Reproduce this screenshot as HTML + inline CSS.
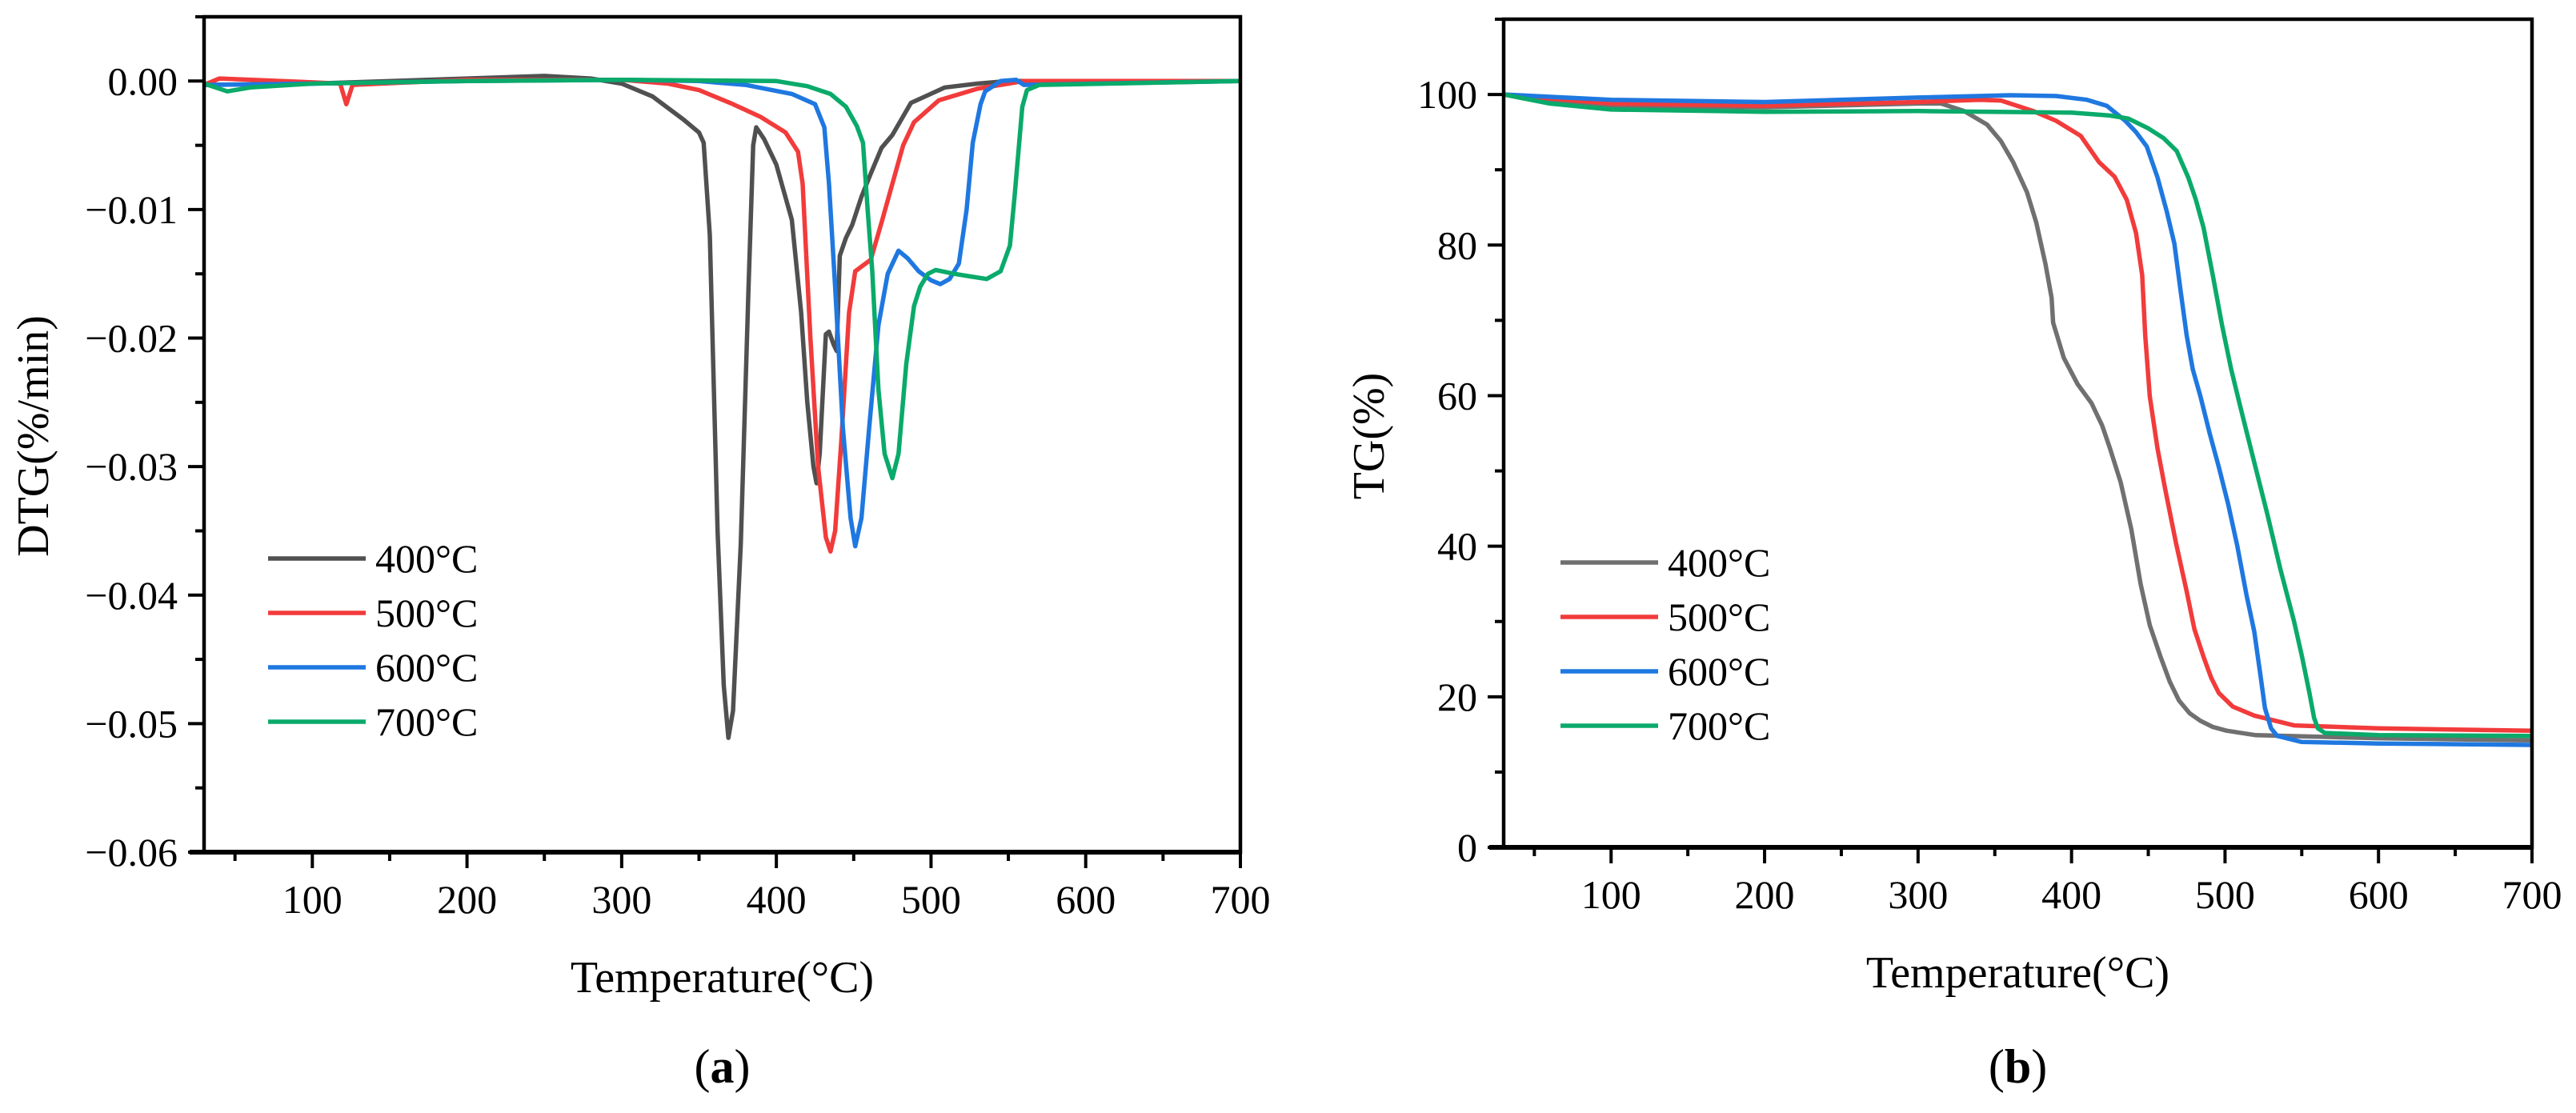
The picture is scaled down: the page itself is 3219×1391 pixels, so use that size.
<!DOCTYPE html>
<html><head><meta charset="utf-8"><style>
html,body{margin:0;padding:0;background:#fff;}
svg{display:block;font-family:"Liberation Serif",serif;}
</style></head><body>
<svg id="fig" width="3219" height="1391" viewBox="0 0 3219 1391" xmlns="http://www.w3.org/2000/svg">
<g id="pa"></g>
<g id="pb"></g>
</svg>
<script>
// ---- Data ----
const seriesNames = ["400°C","500°C","600°C","700°C"];
const dtgColors = ["#505050","#f23b3b","#1f78e0","#0aaa6a"];
const tgColors = ["#707070","#f23b3b","#1f78e0","#0aaa6a"];
const xTicks = [100,200,300,400,500,600,700];
const dtgYTicks = [0,-0.01,-0.02,-0.03,-0.04,-0.05,-0.06];
const dtgYLabels = ["0.00","\u22120.01","\u22120.02","\u22120.03","\u22120.04","\u22120.05","\u22120.06"];
const tgYTicks = [0,20,40,60,80,100];
const tgYLabels = ["0","20","40","60","80","100"];

const dtg400T = [30,100,200,250,280,300,320,340,350,353,357,362,366,369,372,377,382,385,387,392,400,410,416,420,424,426,428,432,434,437,439,441,445,449,455,461,468,475,487,509,530,550,700];
const dtg400V = [-0.0003,-0.0002,0.0002,0.0004,0.0002,-0.0002,-0.0012,-0.003,-0.004,-0.0048,-0.012,-0.035,-0.047,-0.0511,-0.049,-0.036,-0.016,-0.005,-0.0036,-0.0045,-0.0065,-0.0108,-0.018,-0.025,-0.030,-0.0313,-0.029,-0.0197,-0.0195,-0.0205,-0.021,-0.0136,-0.0122,-0.0112,-0.009,-0.0072,-0.0052,-0.0042,-0.0017,-0.0005,-0.0002,0,0];
const dtg500T = [30,40,100,118,122,126,200,300,330,350,372,390,406,414,417,422,427,432,435,438,442,447,451,461,468,475,482,489,505,530,560,700];
const dtg500V = [-0.0003,0.0002,-0.0001,-0.0002,-0.0018,-0.0003,0.0001,0.0001,-0.0002,-0.0007,-0.0018,-0.0028,-0.004,-0.0055,-0.008,-0.02,-0.03,-0.0355,-0.0366,-0.035,-0.028,-0.018,-0.0148,-0.0139,-0.011,-0.008,-0.005,-0.0032,-0.0015,-0.0006,0,0];
const dtg600T = [30,100,200,300,350,380,410,425,431,434,438,443,448,451,455,460,466,472,479,485,492,500,506,512,518,523,527,532,535,545,555,560,700];
const dtg600V = [-0.0003,-0.0002,0,0.0001,0,-0.0003,-0.001,-0.0018,-0.0036,-0.008,-0.016,-0.027,-0.034,-0.0362,-0.034,-0.027,-0.019,-0.015,-0.0132,-0.0138,-0.0148,-0.0155,-0.0158,-0.0154,-0.0142,-0.010,-0.0048,-0.0018,-0.0008,0,0.0001,-0.0003,0];
const dtg700T = [30,45,60,100,200,300,400,420,435,445,452,456,459,462,466,470,475,479,484,489,493,498,503,515,525,536,545,551,554,557,559,562,570,700];
const dtg700V = [-0.0002,-0.0008,-0.0005,-0.0002,0,0.0001,0,-0.0004,-0.001,-0.002,-0.0035,-0.0048,-0.010,-0.0148,-0.024,-0.029,-0.0309,-0.029,-0.022,-0.0175,-0.016,-0.015,-0.0147,-0.015,-0.0152,-0.0154,-0.0148,-0.0128,-0.009,-0.0048,-0.002,-0.0007,-0.0003,0];

const tg400T = [30,60,100,200,300,315,330,345,354,362,371,377,383,387,388,395,404,413,420,425,432,439,445,451,458,464,470,477,484,492,501,520,600,700];
const tg400V = [100,99,98.5,98.3,98.8,98.8,97.8,96,93.8,91,87,83,77.5,73,69.7,65,61.5,59,56,53,48.5,42.2,35,29.5,25.3,22,19.5,17.8,16.8,16,15.5,14.9,14.5,14.2];
const tg500T = [30,100,200,300,340,354,375,390,406,418,428,436,442,446,448,451,456,461,468,475,480,486,491,496,505,519,545,600,700];
const tg500V = [100,98.8,98.5,99,99.3,99.2,97.8,96.5,94.5,91,89.1,86,81.6,76,68,59.9,53,47.6,40.5,34,29,25.3,22.5,20.5,18.7,17.5,16.2,15.8,15.5];
const tg600T = [30,100,200,300,360,390,410,423,435,442,449,456,462,467,471,475,479,484,490,496,502,508,514,519,523,526,530,534,550,600,700];
const tg600V = [100,99.3,99,99.6,99.9,99.8,99.3,98.5,96.5,95,93.1,89,84.5,80.2,74,68,63.5,59.9,55,50.5,45.6,40,33.5,28.7,23,18.5,15.8,14.8,14,13.8,13.6];
const tg700T = [30,60,100,200,300,400,425,437,450,460,468.5,476,481,486,492,498,504,510,518,527.5,536,545,550,555,558,560.5,565,600,700];
const tg700V = [100,98.8,98,97.7,97.8,97.6,97.2,96.8,95.5,94.2,92.5,89,86,82.3,76,69.4,63.5,58.5,52,44.3,37,30,25.5,20.5,17.2,15.8,15.2,14.9,14.8];

const dtgSeries = [[dtg400T,dtg400V],[dtg500T,dtg500V],[dtg600T,dtg600V],[dtg700T,dtg700V]];
const tgSeries = [[tg400T,tg400V],[tg500T,tg500V],[tg600T,tg600V],[tg700T,tg700V]];

const NS = "http://www.w3.org/2000/svg";
function mk(parent, tag, attrs, text){
  const e = document.createElementNS(NS, tag);
  for (const k in attrs) e.setAttribute(k, attrs[k]);
  if (text !== undefined) e.textContent = text;
  parent.appendChild(e);
  return e;
}

function panel(g, cfg){
  const {L,R,T,B,xmin,xmax,ymin,ymax} = cfg;
  const sx = v => L + (v - xmin) / (xmax - xmin) * (R - L);
  const sy = v => B - (v - ymin) / (ymax - ymin) * (B - T);
  cfg.series.forEach((s, i) => {
    const d = s[0].map((t, j) => (j ? "L" : "M") + sx(t).toFixed(1) + " " + sy(s[1][j]).toFixed(1)).join(" ");
    const p = mk(g, "path", {d: d, fill: "none", stroke: cfg.colors[i], "stroke-width": 5.5, "stroke-linejoin": "round"});
    
    
  });
  const fr = mk(g, "rect", {x: L, y: T, width: R - L, height: B - T, fill: "none", stroke: "#000", "stroke-width": 4.5});
  
  
  const bx = mk(g, "line", {x1: L - 18, x2: R, y1: B, y2: B, stroke: "#000", "stroke-width": 6});
  
  
  for (let v = 50; v <= 700; v += 50) {
    const major = v % 100 === 0;
    const t = mk(g, "line", {x1: sx(v), x2: sx(v), y1: B, y2: B + (major ? 20 : 11), stroke: "#000", "stroke-width": 4});
    
    
  }
  xTicks.forEach(v => {
    const t = mk(g, "text", {x: sx(v), y: B + 76, "font-size": 50, "text-anchor": "middle"}, String(v));
    
    
  });
  for (let v = ymin; v <= cfg.yTop + 1e-9; v += cfg.minor) {
    const k = Math.round((v - ymin) / cfg.minor);
    const major = k % 2 === 0;
    const t = mk(g, "line", {x1: L - (major ? 20 : 11), x2: L, y1: sy(v), y2: sy(v), stroke: "#000", "stroke-width": 4});
    
    
  }
  cfg.yTicks.forEach((v, i) => {
    const t = mk(g, "text", {x: L - 33, y: sy(v) + 17, "font-size": 50, "text-anchor": "end"}, cfg.yLabels[i]);
    
    
  });
  const xt = mk(g, "text", {x: (L + R) / 2, y: B + 175, "font-size": 56, "text-anchor": "middle"}, "Temperature(°C)");
  
  
  const yt = mk(g, "text", {x: 0, y: 0, "font-size": 56, "text-anchor": "middle", transform: `translate(${cfg.ytX},${cfg.ytY}) rotate(-90)`}, cfg.yTitle);
  
  
  const cap = mk(g, "text", {x: (L + R) / 2, y: 1353, "font-size": 60, "text-anchor": "middle"});
  
  
  mk(cap, "tspan", {}, "(");
  mk(cap, "tspan", {"font-weight": "bold"}, cfg.letter);
  mk(cap, "tspan", {}, ")");
  const lg = mk(g, "g", {});
  
  
  seriesNames.forEach((n, i) => {
    const y = cfg.legY + i * 68;
    const ln = mk(lg, "line", {x1: cfg.legX, x2: cfg.legX + 122, y1: y, y2: y, stroke: cfg.colors[i], "stroke-width": 5.5});
    
    
    const tx = mk(lg, "text", {x: cfg.legX + 134, y: y + 17, "font-size": 50}, n);
    
    
  });
}

panel(document.getElementById("pa"), {L:255,R:1550,T:21,B:1065,xmin:30,xmax:700,ymin:-0.06,ymax:0.005,yTop:0.005,minor:0.005,
  series: dtgSeries, colors: dtgColors, yTicks: dtgYTicks, yLabels: dtgYLabels, yTitle:"DTG(%/min)", ytX:60, ytY:545,
  letter:"a", legX:335, legY:698});
panel(document.getElementById("pb"), {L:1879,R:3164,T:24,B:1059,xmin:30,xmax:700,ymin:0,ymax:110,yTop:110,minor:10,
  series: tgSeries, colors: tgColors, yTicks: tgYTicks, yLabels: tgYLabels, yTitle:"TG(%)", ytX:1729, ytY:545,
  letter:"b", legX:1950, legY:703});
</script>
</body></html>
